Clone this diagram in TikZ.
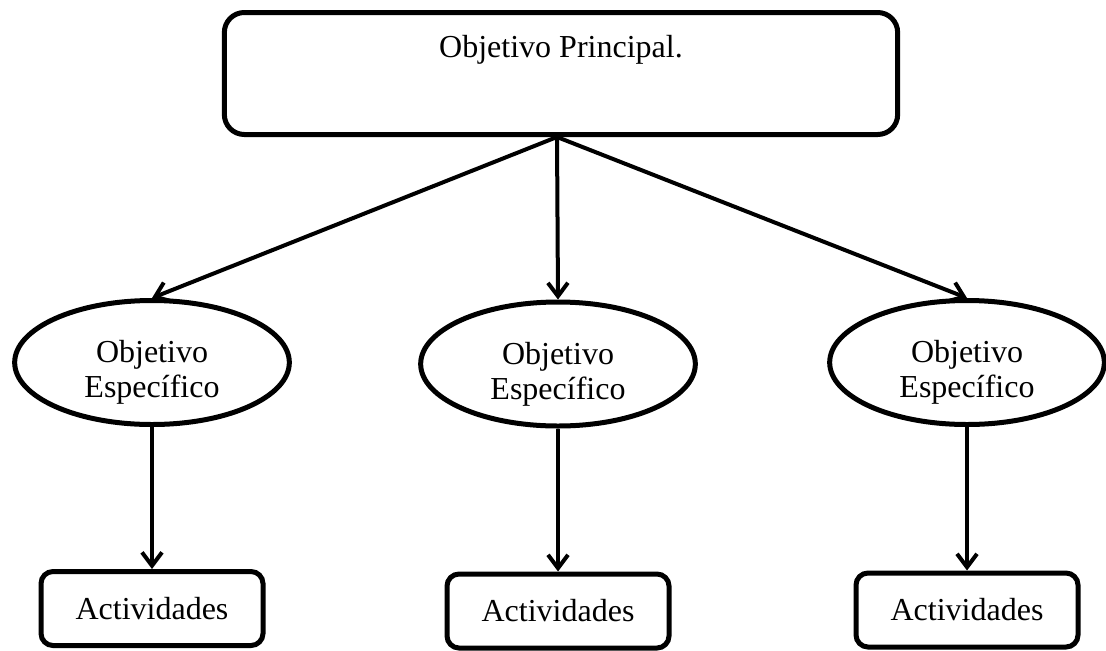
\documentclass[tikz,border=0pt]{standalone}
\usepackage{fontspec}
\setmainfont{Liberation Serif}
\usepackage{tikz}
\usetikzlibrary{arrows, arrows.meta, shapes, positioning}

\begin{document}
\begin{tikzpicture}[x=0.75pt, y=-0.75pt, >={Straight Barb[length=10pt,width=15pt]}, font=\fontsize{24}{26}\selectfont]
        \tikzstyle{principal} = [draw, shape=rectangle, rounded corners=15pt, minimum
        width=505pt, minimum height=91.5pt, line width=3.75pt]
        \tikzstyle{especifico} = [draw, shape=ellipse, minimum width=206pt, minimum
        height=93pt, line width=3.75pt]
        \tikzstyle{actividad} = [draw, shape=rectangle, rounded corners=9pt, minimum
        width=166.5pt, minimum height=55.5pt, line width=3.75pt]
        \useasboundingbox (0,0) rectangle (1106,650);
        %Creating Blocks
        \node [principal] at (561,73.5) (obj) {};
        \node at (561,50) (titulo) {Objetivo Principal.};
        \coordinate (vertice) at (557,137);
        \node [especifico] at (152,362.5) (esp1) {};
        \node [especifico] at (558,364) (esp2) {};
        \node [especifico] at (967,362.5) (esp3) {};
        \node [align=center] at ([yshift=-7.5pt]esp1.center) (txt1) {Objetivo\\Específico};
        \node [align=center] at ([yshift=-7.5pt]esp2.center) (txt2) {Objetivo\\Específico};
        \node [align=center] at ([yshift=-7.5pt]esp3.center) (txt3) {Objetivo\\Específico};
        \node [actividad] at (152,608.5) (act1) {Actividades};
        \node [actividad] at (558,611) (act2) {Actividades};
        \node [actividad] at (967,610) (act3) {Actividades};
        %Connecting Blocks
        \begin{scope}[line width=3pt]
            \draw[->] (vertice) -- (esp1.north);
            \draw[->] (vertice) -- (esp2.north);
            \draw[->] (vertice) -- (esp3.north);
            \draw[->] (esp1.south) -- (act1.north);
            \draw[->] (esp2.south) -- (act2.north);
            \draw[->] (esp3.south) -- (act3.north);
        \end{scope}
    \end{tikzpicture}
\end{document}
